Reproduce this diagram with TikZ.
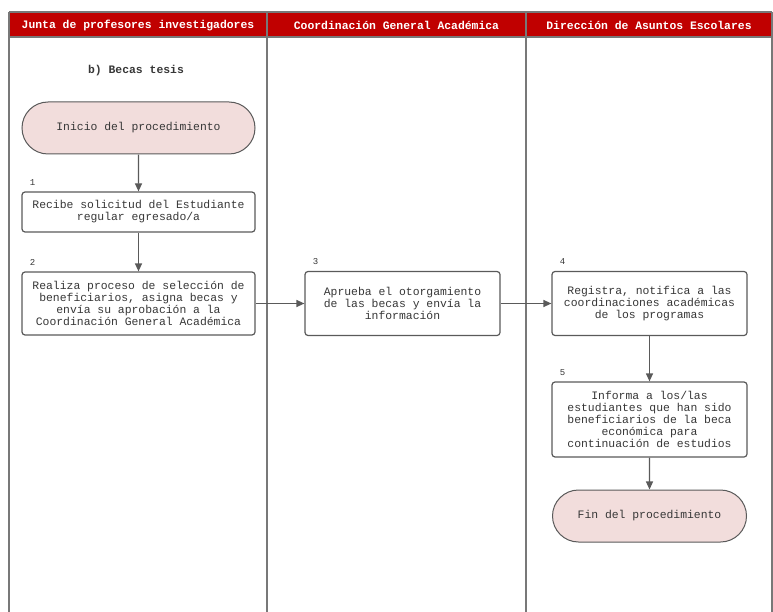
\documentclass[tikz,border=0pt]{standalone}
\usepackage{fontspec}
\setmonofont{Liberation Mono}
\usetikzlibrary{arrows.meta,shapes.misc}
\definecolor{headred}{RGB}{192,0,0}
\definecolor{startpink}{RGB}{242,221,220}
\definecolor{boxgray}{RGB}{90,90,90}
\definecolor{lanegray}{RGB}{120,120,120}
\definecolor{txtgray}{RGB}{55,55,55}

\begin{document}
\begin{tikzpicture}[x=1pt,y=-1pt,
  font=\ttfamily\fontsize{11.4}{12}\selectfont, text=txtgray,
  lane/.style={draw=lanegray,line width=1.8pt},
  header/.style={text=white,font=\ttfamily\bfseries\fontsize{11.4}{12}\selectfont},
  terminal/.style={rounded rectangle,draw=boxgray,line width=1pt,fill=startpink,
    minimum height=52pt,inner sep=0pt},
  process/.style={rectangle,rounded corners=3pt,draw=boxgray,line width=1.2pt,
    fill=white,align=center,inner sep=0pt},
  numlabel/.style={font=\ttfamily\fontsize{9}{9}\selectfont,anchor=south west,
    xshift=5pt,yshift=2.5pt},
  flow/.style={draw=boxgray,line width=1.2pt,-{Triangle[length=8pt,width=7pt]}}]
  \useasboundingbox (0,0) rectangle (773,612);
  \fill[headred] (9,12) rectangle (772,37);
  \draw[lane] (9,12) -- (772,12);
  \draw[lane] (9,37) -- (772,37);
  \foreach \x in {9,267,526,772} \draw[lane] (\x,12) -- (\x,612);

  \node[header] (hjunta) at (138,25) {Junta de profesores investigadores};
  \node[header] (hcoord) at (396.5,25) {Coordinación General Académica};
  \node[header] (hdir) at (649,25) {Dirección de Asuntos Escolares};
  \node[font=\ttfamily\bfseries\fontsize{11.4}{12}\selectfont] (titulo) at (136,71) {b) Becas tesis};

  \node[terminal,minimum width=233pt] (inicio) at (138.5,128) {Inicio del procedimiento};
  \node[process,minimum width=233pt,minimum height=40pt,
    label={[numlabel]north west:1}] (paso1) at (138.5,212)
    {Recibe solicitud del Estudiante\\regular egresado/a};
  \node[process,minimum width=233pt,minimum height=63pt,
    label={[numlabel]north west:2}] (paso2) at (138.5,303.5)
    {Realiza proceso de selección de\\beneficiarios, asigna becas y\\envía su aprobación a la\\Coordinación General Académica};
  \node[process,minimum width=195pt,minimum height=64pt,
    label={[numlabel]north west:3}] (paso3) at (402.5,303.5)
    {Aprueba el otorgamiento\\de las becas y envía la\\información};
  \node[process,minimum width=195pt,minimum height=64pt,
    label={[numlabel]north west:4}] (paso4) at (649.5,303.5)
    {Registra, notifica a las\\coordinaciones académicas\\de los programas};
  \node[process,minimum width=195pt,minimum height=75pt,
    label={[numlabel]north west:5}] (paso5) at (649.5,419.5)
    {Informa a los/las\\estudiantes que han sido\\beneficiarios de la beca\\económica para\\continuación de estudios};
  \node[terminal,minimum width=194pt] (fin) at (649.5,516) {Fin del procedimiento};

  \draw[flow] (inicio) -- (paso1);
  \draw[flow] (paso1) -- (paso2);
  \draw[flow] (paso2) -- (paso3);
  \draw[flow] (paso3) -- (paso4);
  \draw[flow] (paso4) -- (paso5);
  \draw[flow] (paso5) -- (fin);
\end{tikzpicture}
\end{document}
